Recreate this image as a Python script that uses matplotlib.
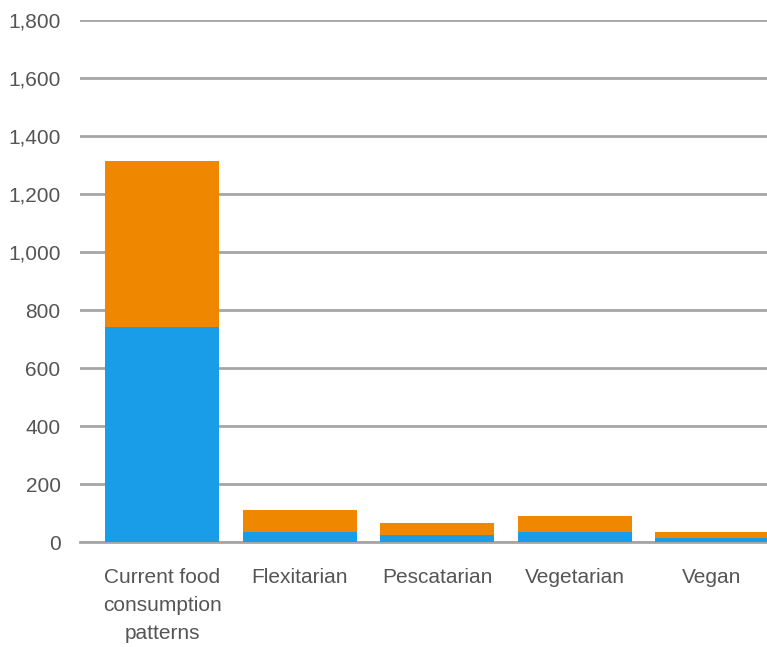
import matplotlib
matplotlib.use("Agg")
import matplotlib.pyplot as plt
import matplotlib.ticker as ticker

plt.rcParams["font.family"] = ["Liberation Sans", "DejaVu Sans"]

categories = ["Current food\nconsumption\npatterns", "Flexitarian",
              "Pescatarian", "Vegetarian", "Vegan"]
blue_vals = [740, 34, 24, 34, 14]
orange_vals = [573, 76, 41, 56, 20]
yticks = [0, 200, 400, 600, 800, 1000, 1200, 1400, 1600, 1800]

blue = "#1a9de9"
orange = "#f08700"
grey = "#a6a6a6"

fig = plt.figure(figsize=(7.67, 6.47), dpi=100)
ax = fig.add_axes([80 / 767, 105 / 647, 1 - 80 / 767, 522 / 647])

x = range(len(categories))
ax.bar(x, blue_vals, width=0.83, color=blue, zorder=2)
ax.bar(x, orange_vals, width=0.83, bottom=blue_vals, color=orange, zorder=2)

ax.set_xlim(-0.6, 4.4)
ax.set_ylim(0, 1800)
ax.set_yticks(yticks)
ax.yaxis.set_major_formatter(ticker.FuncFormatter(lambda v, p: f"{int(v):,}"))
ax.set_xticks(list(x))
ax.set_xticklabels(categories, linespacing=1.6)

ax.grid(axis="y", color=grey, linewidth=2, zorder=1)
ax.axhline(0, color=grey, linewidth=2, zorder=1, clip_on=False)
ax.set_axisbelow(True)
for s in ax.spines.values():
    s.set_visible(False)
ax.tick_params(axis="both", length=0, labelsize=15, colors="#555555")
ax.tick_params(axis="y", pad=14)
ax.tick_params(axis="x", pad=19)

fig.savefig("out.png", dpi=100)
